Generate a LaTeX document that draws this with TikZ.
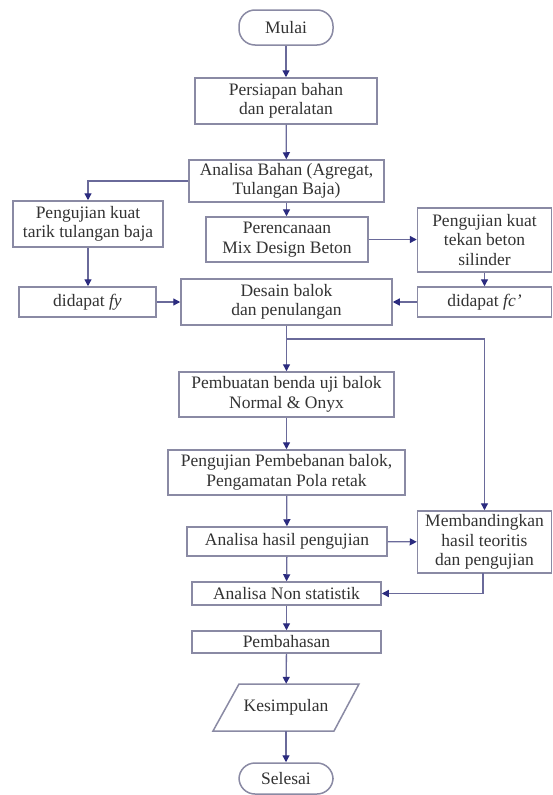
\documentclass[tikz,border=0pt]{standalone}
\usepackage{fontspec}
\setmainfont{Liberation Serif}
\usetikzlibrary{arrows.meta}
\definecolor{boxc}{HTML}{8A8AA4}
\definecolor{linec}{HTML}{6A6A9A}
\definecolor{tipc}{HTML}{2B2B7F}
\definecolor{txtc}{HTML}{333333}
\tikzset{
  box/.style={draw=boxc, line width=1.5pt, rectangle, inner sep=0pt, align=center,
    text=txtc, font=\fontsize{17.5}{19.5}\selectfont},
  term/.style={box, rounded corners=16pt},
  arr/.style={draw=linec, line width=1.3pt, -{Triangle[length=7pt,width=7pt,color=tipc]}},
  ln/.style={draw=linec, line width=1.3pt}
}
\begin{document}
\begin{tikzpicture}[x=1pt,y=-1pt]
\useasboundingbox (0,0) rectangle (552,795);
\fill[white] (0,0) rectangle (552,795);

\node[term, minimum width=94pt, minimum height=35pt] (mulai) at (286,27.5) {Mulai};
\node[box, minimum width=182pt, minimum height=46pt] (persiapan) at (286,101) {Persiapan bahan\\dan peralatan};
\node[box, minimum width=195pt, minimum height=42pt] (analisa) at (286.5,181) {Analisa Bahan (Agregat,\\Tulangan Baja)};
\node[box, minimum width=150pt, minimum height=46pt] (tarik) at (88,224) {Pengujian kuat\\tarik tulangan baja};
\node[box, minimum width=162pt, minimum height=45pt] (rencana) at (287,239.5) {Perencanaan\\Mix Design Beton};
\node[box, minimum width=134pt, minimum height=64pt] (tekan) at (484.5,240) {Pengujian kuat\\tekan beton\\silinder};
\node[box, minimum width=137pt, minimum height=30pt] (fy) at (87.5,302) {didapat \textit{fy}};
\node[box, minimum width=211pt, minimum height=46pt] (desain) at (286.5,302) {Desain balok\\dan penulangan};
\node[box, minimum width=134pt, minimum height=30pt] (fc) at (484.5,302) {didapat \textit{fc’}};
\node[box, minimum width=215pt, minimum height=45pt] (buat) at (286.5,394.5) {Pembuatan benda uji balok\\Normal \& Onyx};
\node[box, minimum width=237pt, minimum height=45pt] (beban) at (286.5,472.5) {Pengujian Pembebanan balok,\\Pengamatan Pola retak};
\node[box, minimum width=200pt, minimum height=29pt] (hasil) at (287,541.5) {Analisa hasil pengujian};
\node[box, minimum width=134pt, minimum height=62pt] (banding) at (484.5,542) {Membandingkan\\hasil teoritis\\dan pengujian};
\node[box, minimum width=189pt, minimum height=23pt] (nonstat) at (286.5,593.5) {Analisa Non statistik};
\node[box, minimum width=189pt, minimum height=22pt] (bahas) at (286.5,642) {Pembahasan};
\node[inner sep=0pt, minimum width=120pt, minimum height=47pt, text=txtc,
  font=\fontsize{17.5}{19.5}\selectfont] (kesimp) at (286,707.5) {Kesimpulan};
\draw[boxc, line width=1.5pt] (239,684) -- (359,684) -- (334,731) -- (213,731) -- cycle;
\node[term, minimum width=94pt, minimum height=31pt] (selesai) at (286,778.5) {Selesai};

\draw[arr] (mulai) -- (persiapan);
\draw[arr] (persiapan) -- (analisa);
\draw[arr] (analisa) -- (rencana.north -| analisa.south);
\draw[arr] (analisa.west) -| (tarik.north);
\draw[arr] (rencana.east) -- (rencana.east -| tekan.west);
\draw[arr] (tarik.south) -- (tarik.south |- fy.north);
\draw[arr] (tekan) -- (fc);
\draw[arr] (fy) -- (desain);
\draw[arr] (fc) -- (desain);
\draw[arr] (desain) -- (buat.north -| desain.south);
\coordinate (br) at (286.5,339);
\draw[arr] (br) -| (banding.north);
\draw[arr] (buat) -- (beban);
\draw[arr] (beban) -- (hasil);
\draw[arr] (hasil) -- (banding);
\draw[arr] (hasil) -- (nonstat);
\coordinate (bs) at (483,573);
\draw[arr] (bs) |- (nonstat.east);
\draw[arr] (nonstat) -- (bahas);
\draw[arr] (bahas) -- (kesimp);
\draw[arr] (kesimp) -- (selesai);
\end{tikzpicture}
\end{document}
